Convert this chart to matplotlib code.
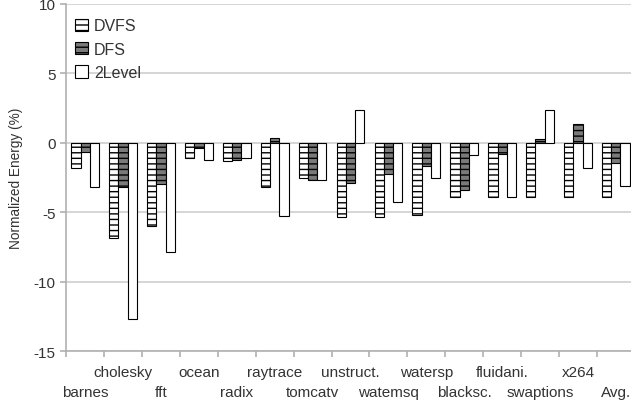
import matplotlib
matplotlib.use('Agg')
import matplotlib.pyplot as plt
import numpy as np

plt.rcParams['font.family'] = ['Liberation Sans', 'DejaVu Sans']
plt.rcParams['hatch.linewidth'] = 1.0
plt.rcParams['text.color'] = '#333333'
plt.rcParams['axes.labelcolor'] = '#333333'
plt.rcParams['xtick.labelcolor'] = '#333333'
plt.rcParams['ytick.labelcolor'] = '#333333'

benchmarks = ['barnes', 'cholesky', 'fft', 'ocean', 'radix', 'raytrace', 'tomcatv',
              'unstruct.', 'watemsq', 'watersp', 'blacksc.', 'fluidani.', 'swaptions',
              'x264', 'Avg.']
dvfs = [-1.8, -6.85, -6.0, -1.1, -1.35, -3.2, -2.55, -5.35, -5.35, -5.2,
        -3.9, -3.9, -3.9, -3.9, -3.9]
dfs = [-0.65, -3.2, -3.0, -0.4, -1.25, 0.35, -2.65, -2.9, -2.25, -1.7,
       -3.4, -0.8, 0.3, 1.35, -1.45]
two_level = [-3.2, -12.7, -7.85, -1.25, -1.1, -5.25, -2.65, 2.35, -4.3, -2.55,
             -0.9, -3.9, 2.35, -1.8, -3.1]

fig = plt.figure(figsize=(6.31, 4.06), dpi=100)
ax = fig.add_axes([0.105, 0.133, 0.901, 0.855])

x = np.arange(len(benchmarks)) + 0.5
w = 0.244
ax.bar(x - w, dvfs, w, color='white', edgecolor='black', hatch='---',
       linewidth=0.8, label='DVFS', zorder=3)
ax.bar(x, dfs, w, color='#7a7a7a', edgecolor='black', hatch='---',
       linewidth=0.8, label='DFS', zorder=3)
ax.bar(x + w, two_level, w, color='white', edgecolor='black',
       linewidth=0.8, label='2Level', zorder=3)

ax.set_xlim(0, len(benchmarks))
ax.set_ylim(-15, 10)
ax.set_yticks([-15, -10, -5, 0, 5, 10])
ax.set_yticklabels(['-15', '-10', '-5', '0', '5', '10'])
ax.yaxis.grid(True, color='#d2d2d2', linewidth=1.3, zorder=0)
ax.set_axisbelow(True)

# category boundaries carry the ticks; names go in two staggered rows
ax.set_xticks(np.arange(len(benchmarks) + 1))
ax.set_xticklabels([])
for i, name in enumerate(benchmarks):
    dy = -15 if i % 2 else -29.5
    ax.annotate(name, xy=(x[i], 0), xycoords=('data', 'axes fraction'),
                xytext=(0, dy), textcoords='offset points',
                ha='center', va='center', fontsize=11, annotation_clip=False)

ax.tick_params(axis='x', length=4.5, color='#b0b0b0', width=1.2)
ax.tick_params(axis='y', length=4.5, color='#b0b0b0', width=1.2, labelsize=11, pad=3)

for side in ['top', 'right']:
    ax.spines[side].set_visible(False)
for side in ['left', 'bottom']:
    ax.spines[side].set_color('#b0b0b0')
    ax.spines[side].set_linewidth(1.2)

ax.set_ylabel('Normalized Energy (%)', fontsize=9.8, labelpad=8)

ax.legend(loc='upper left', bbox_to_anchor=(0.015, 0.958), frameon=False,
          fontsize=11.5, borderaxespad=0, borderpad=0, handlelength=0.8,
          handleheight=0.8, handletextpad=0.4, labelspacing=0.52)

fig.savefig('out.png', dpi=100)
